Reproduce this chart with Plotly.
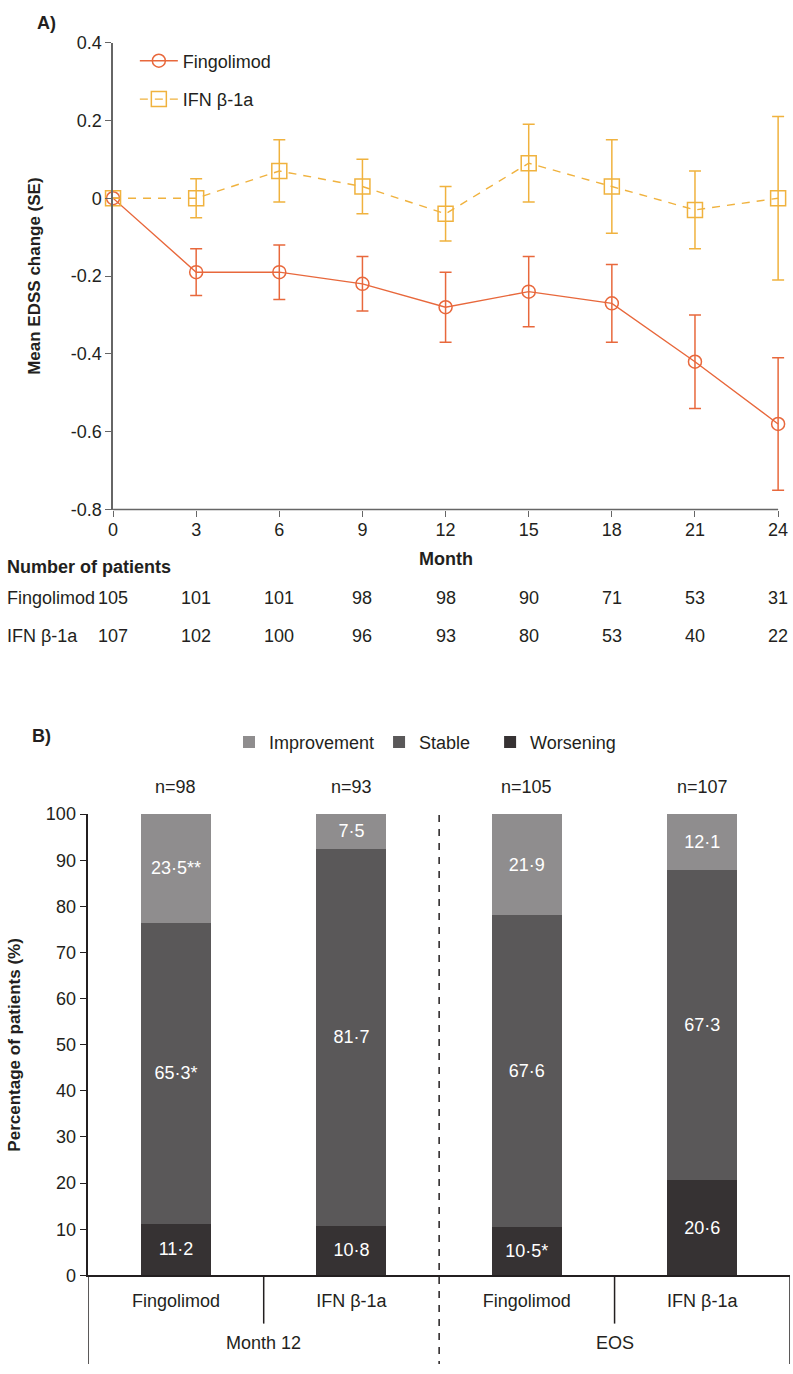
import plotly.graph_objects as go

# ---------------- Panel A data ----------------
months = [0, 3, 6, 9, 12, 15, 18, 21, 24]
fingo_mean = [0, -0.19, -0.19, -0.22, -0.28, -0.24, -0.27, -0.42, -0.58]
fingo_se = [0, 0.06, 0.07, 0.07, 0.09, 0.09, 0.10, 0.12, 0.17]
ifn_mean = [0, 0, 0.07, 0.03, -0.04, 0.09, 0.03, -0.03, 0]
ifn_se = [0, 0.05, 0.08, 0.07, 0.07, 0.10, 0.12, 0.10, 0.21]
n_fingo = [105, 101, 101, 98, 98, 90, 71, 53, 31]
n_ifn = [107, 102, 100, 96, 93, 80, 53, 40, 22]
a_yticks = [0.4, 0.2, 0, -0.2, -0.4, -0.6, -0.8]
a_yticklabels = ["0.4", "0.2", "0", "-0.2", "-0.4", "-0.6", "-0.8"]

# ---------------- Panel B data ----------------
groups = ["Fingolimod", "IFN β-1a", "Fingolimod", "IFN β-1a"]
timepoints = ["Month 12", "EOS"]
n_labels = ["n=98", "n=93", "n=105", "n=107"]
worsening = [11.2, 10.8, 10.5, 20.6]
stable = [65.3, 81.7, 67.6, 67.3]
improvement = [23.5, 7.5, 21.9, 12.1]
worsening_sig = ["", "", "*", ""]
stable_sig = ["*", "", "", ""]
improvement_sig = ["**", "", "", ""]
b_yticks = [0, 10, 20, 30, 40, 50, 60, 70, 80, 90, 100]

FINGO_C = "#E8683C"
IFN_C = "#F0B23E"
IMP_C = "#8F8D8E"
STA_C = "#5A5859"
WOR_C = "#363233"
TXT = "#231F20"
AX_A = "#666666"
FONT = "Arial, Liberation Sans, sans-serif"
FS = 18
W, H = 793, 1374


def py(px):
    return 1 - px / H


def pxx(px):
    return px / W


def fmt(vals, sig):
    return [f"{v:.1f}".replace(".", "\u00b7") + s for v, s in zip(vals, sig)]


fig = go.Figure()

fig.add_trace(go.Scatter(
    x=months, y=fingo_mean, name="Fingolimod", mode="lines+markers",
    line=dict(color=FINGO_C, width=1.4),
    marker=dict(symbol="circle-open", size=13, color=FINGO_C, line=dict(width=1.5)),
    error_y=dict(type="data", array=fingo_se, color=FINGO_C, thickness=1.5, width=6),
    cliponaxis=False, xaxis="x", yaxis="y", legend="legend", legendgroup="a",
))
fig.add_trace(go.Scatter(
    x=months, y=ifn_mean, name="IFN β-1a", mode="lines+markers",
    line=dict(color=IFN_C, width=1.4, dash="8px,7px"),
    marker=dict(symbol="square-open", size=15, color=IFN_C, line=dict(width=1.5)),
    error_y=dict(type="data", array=ifn_se, color=IFN_C, thickness=1.5, width=6),
    cliponaxis=False, xaxis="x", yaxis="y", legend="legend", legendgroup="b",
))

xb = list(range(len(groups)))
for name, vals, sig, col in [("Worsening", worsening, worsening_sig, WOR_C),
                             ("Stable", stable, stable_sig, STA_C),
                             ("Improvement", improvement, improvement_sig, IMP_C)]:
    fig.add_trace(go.Bar(
        x=xb, y=vals, name=name + ("\u00a0\u00a0\u00a0" if name == "Stable" else ""),
        marker=dict(color=col, line=dict(width=0)),
        width=0.4, text=fmt(vals, sig), textposition="inside", insidetextanchor="middle",
        textangle=0, textfont=dict(color="white", size=18, family=FONT),
        xaxis="x2", yaxis="y2", legend="legend2",
        legendrank={"Improvement": 1, "Stable": 2, "Worsening": 3}[name],
    ))

ann = []
# Panel A texts
ann.append(dict(text="<b>A)</b>", x=pxx(30), y=py(13), xref="paper", yref="paper",
                xanchor="left", yanchor="middle", showarrow=False, font=dict(size=18, color=TXT)))
ann.append(dict(text="<b>Mean EDSS change (SE)</b>", x=pxx(29), y=py(270), xref="paper", yref="paper",
                textangle=-90, xanchor="center", yanchor="middle", showarrow=False,
                font=dict(size=17, color=TXT)))
ann.append(dict(text="<b>Month</b>", x=12, y=py(557), xref="x", yref="paper",
                xanchor="center", yanchor="middle", showarrow=False, font=dict(size=FS, color=TXT)))
ann.append(dict(text="<b>Number of patients</b>", x=0, y=py(565), xref="paper", yref="paper",
                xanchor="left", yanchor="middle", showarrow=False, font=dict(size=FS, color=TXT)))
for lab, row, ypx in [("Fingolimod", n_fingo, 597), ("IFN β-1a", n_ifn, 635)]:
    ann.append(dict(text=lab, x=0, y=py(ypx), xref="paper", yref="paper",
                    xanchor="left", yanchor="middle", showarrow=False, font=dict(size=FS, color=TXT)))
    for m, n in zip(months, row):
        ann.append(dict(text=str(n), x=m, y=py(ypx), xref="x", yref="paper",
                        xanchor="center", yanchor="middle", showarrow=False,
                        font=dict(size=FS, color=TXT)))

# Panel B texts
ann.append(dict(text="<b>B)</b>", x=pxx(25), y=py(737), xref="paper", yref="paper",
                xanchor="left", yanchor="middle", showarrow=False, font=dict(size=18, color=TXT)))
ann.append(dict(text="<b>Percentage of patients (%)</b>", x=pxx(10), y=py(1050), xref="paper", yref="paper",
                textangle=-90, xanchor="center", yanchor="middle", showarrow=False,
                font=dict(size=17, color=TXT)))
for x, lab in zip(xb, n_labels):
    ann.append(dict(text=lab, x=x, y=py(788), xref="x2", yref="paper",
                    xanchor="center", yanchor="middle", showarrow=False, font=dict(size=FS, color=TXT)))
for i, tp in enumerate(timepoints):
    ann.append(dict(text=tp, x=2 * i + 0.5, y=py(1353), xref="x2", yref="paper",
                    xanchor="center", yanchor="middle", showarrow=False, font=dict(size=FS, color=TXT)))

shapes = []
LW = 1.5
# panel A baseline (month 0 to month 24) in layout/paper position
shapes.append(dict(type="line", xref="paper", yref="paper", x0=pxx(109), x1=pxx(780),
                   y0=py(507), y1=py(507), layer="above", line=dict(color=AX_A, width=1.5)))
# panel B brackets
shapes.append(dict(type="line", xref="x2", yref="paper", x0=-0.5, x1=-0.5, y0=py(1284), y1=0,
                   line=dict(color=TXT, width=LW)))
shapes.append(dict(type="line", xref="x2", yref="paper", x0=3.5, x1=3.5, y0=py(1284), y1=0,
                   line=dict(color=TXT, width=LW)))
for xd in (0.5, 2.5):
    shapes.append(dict(type="line", xref="x2", yref="paper", x0=xd, x1=xd, y0=py(1284), y1=py(1333),
                       line=dict(color=TXT, width=LW)))
shapes.append(dict(type="line", xref="x2", yref="paper", x0=1.5, x1=1.5, y0=py(817), y1=0,
                   line=dict(color=TXT, width=1.5, dash="7px,7px")))

# x range slightly wider than 0..24 so edge error-bar caps are not clipped
XMAX = 24.3
a_right_px = 109 + (780 - 109) * XMAX / 24

fig.update_layout(
    width=W, height=H, margin=dict(l=0, r=0, t=0, b=0),
    paper_bgcolor="white", plot_bgcolor="white",
    font=dict(family=FONT, color=TXT, size=FS),
    barmode="stack", showlegend=True,
    annotations=ann, shapes=shapes,
    xaxis=dict(domain=[pxx(109), pxx(a_right_px)], range=[0, XMAX], tickvals=months,
               showline=False, ticks="outside", ticklen=6,
               tickcolor=AX_A, tickwidth=1.2, showgrid=False, zeroline=False,
               tickfont=dict(size=FS, color=TXT), anchor="y", ticklabelstandoff=-2),
    xaxis3=dict(domain=[pxx(109), pxx(780)], range=[0, 24], anchor="y",
                showline=True, linecolor=AX_A, linewidth=1.5, ticks="",
                showticklabels=False, showgrid=False, zeroline=False),
    yaxis=dict(domain=[py(507), py(33)], range=[-0.8, 0.4], tickvals=a_yticks, ticktext=a_yticklabels,
               showline=True, linecolor=AX_A, linewidth=1.5, ticks="outside", ticklen=6,
               tickcolor=AX_A, tickwidth=1.2, showgrid=False, zeroline=False,
               tickfont=dict(size=FS, color=TXT), anchor="x"),
    xaxis2=dict(domain=[pxx(84), pxx(792)], range=[-0.5, 3.5], tickvals=xb, ticktext=groups,
                showline=True, linecolor=TXT, linewidth=LW, ticks="", showgrid=False, zeroline=False,
                tickfont=dict(size=FS, color=TXT), anchor="y2", ticklabelstandoff=8),
    yaxis2=dict(domain=[py(1284), py(816)], range=[0, 100], tickvals=b_yticks,
                showline=True, linecolor=TXT, linewidth=LW, ticks="outside", ticklen=7,
                tickcolor=TXT, tickwidth=1.2, showgrid=False, zeroline=False,
                tickfont=dict(size=18, color=TXT), anchor="x2"),
    legend=dict(x=pxx(131), y=py(33), xanchor="left", yanchor="top", orientation="v",
                font=dict(size=FS, color=TXT), bgcolor="rgba(0,0,0,0)", tracegroupgap=12,
                itemwidth=38, traceorder="grouped"),
    legend2=dict(x=pxx(226), y=py(743), xanchor="left", yanchor="middle", orientation="h",
                 font=dict(size=FS, color=TXT), bgcolor="rgba(0,0,0,0)", traceorder="normal",
                 itemwidth=30),
)

fig.write_html("out.html", config={"displayModeBar": False},
               post_script="document.body.style.margin='0';"
                           "document.documentElement.style.overflow='hidden';")
